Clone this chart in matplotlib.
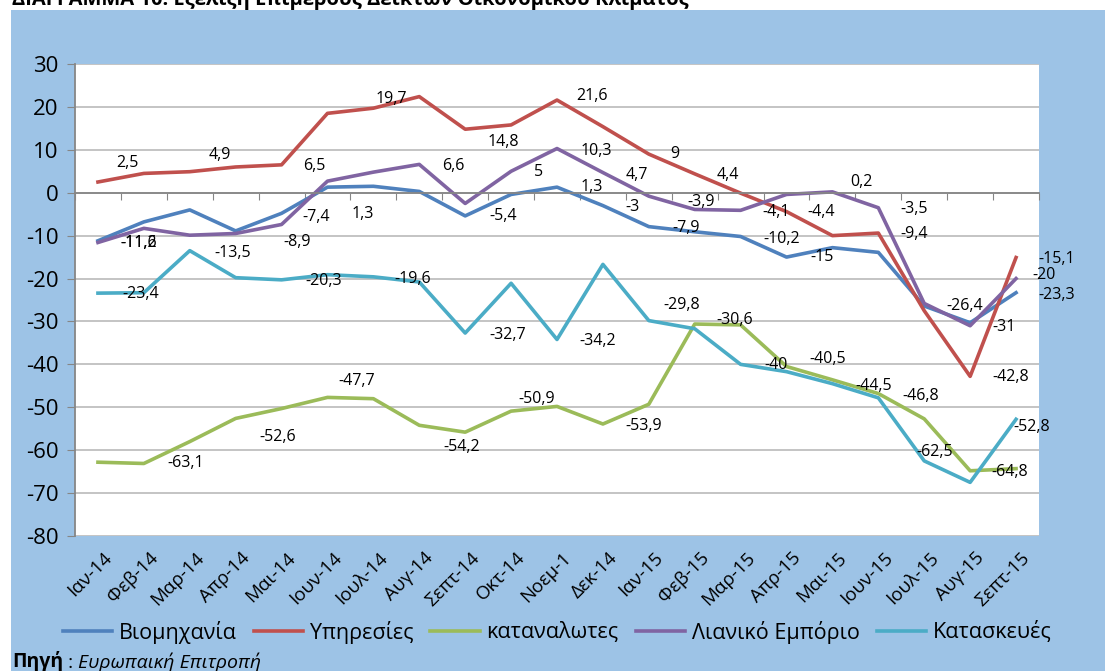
import matplotlib.pyplot as plt
import numpy as np
from matplotlib.patches import Rectangle
from matplotlib.transforms import ScaledTranslation

months = ['Ιαν-14', 'Φεβ-14', 'Μαρ-14', 'Απρ-14', 'Μαι-14', 'Ιουν-14', 'Ιουλ-14',
          'Αυγ-14', 'Σεπτ-14', 'Οκτ-14', 'Νοεμ-1', 'Δεκ-14', 'Ιαν-15', 'Φεβ-15',
          'Μαρ-15', 'Απρ-15', 'Μαι-15', 'Ιουν-15', 'Ιουλ-15', 'Αυγ-15', 'Σεπτ-15']

industry = [-11.2, -6.8, -4.0, -8.9, -4.8, 1.3, 1.5, 0.3, -5.4, -0.4, 1.3,
            -3.0, -7.9, -9.1, -10.2, -15.0, -12.8, -13.9, -26.4, -30.3, -23.3]
services = [2.5, 4.5, 4.9, 6.0, 6.5, 18.5, 19.7, 22.4, 14.8, 15.8, 21.6,
            15.4, 9.0, 4.4, -0.1, -4.4, -10.0, -9.4, -27.5, -42.8, -15.1]
consumers = [-62.8, -63.1, -58.0, -52.6, -50.3, -47.7, -48.0, -54.2, -55.8, -50.9, -49.8,
             -53.9, -49.3, -30.6, -30.8, -40.5, -43.6, -46.8, -52.7, -64.8, -64.3]
retail = [-11.6, -8.3, -9.9, -9.5, -7.4, 2.7, 4.8, 6.6, -2.5, 5.0, 10.3,
          4.7, -0.8, -3.9, -4.1, -0.4, 0.2, -3.5, -25.8, -31.0, -20.0]
construction = [-23.4, -23.3, -13.5, -19.8, -20.3, -19.1, -19.6, -20.8, -32.7, -21.1, -34.2,
                -16.7, -29.8, -31.7, -40.0, -41.7, -44.5, -47.8, -62.5, -67.5, -52.8]

names = ['Βιομηχανία', 'Υπηρεσίες', 'καταναλωτες', 'Λιανικό Εμπόριο', 'Κατασκευές']
colors = ['#4F81BD', '#C0504D', '#9BBB59', '#8064A2', '#4BACC6']
series = [industry, services, consumers, retail, construction]

# data labels: (series, month index, dx px, dy px down)
point_labels = [
    (0, 0, 41, 2), (0, 3, 61, 11), (0, 5, 35, 27), (0, 8, 38, 0), (0, 10, 35, 0),
    (0, 11, 30, 1), (0, 12, 37, 1), (0, 14, 41, 3), (0, 15, 36, 0), (0, 18, 40, 0),
    (0, 20, 41, 2),
    (1, 0, 29, -19), (1, 2, 30, -17), (1, 4, 33, 1), (1, 6, 18, -9), (1, 8, 38, 13),
    (1, 10, 35, -4), (1, 12, 26, 0), (1, 13, 33, 1), (1, 15, 35, 0), (1, 17, 36, 1),
    (1, 19, 41, 1), (1, 20, 41, 1),
    (2, 1, 42, 0), (2, 3, 42, 19), (2, 5, 29, -16), (2, 7, 42, 22), (2, 9, 26, -12),
    (2, 11, 41, 2), (2, 13, 40, -4), (2, 15, 41, -8), (2, 17, 42, 2), (2, 19, 40, 1),
    (3, 0, 41, 0), (3, 4, 35, -7), (3, 7, 34, 2), (3, 9, 27, 1), (3, 10, 39, 2),
    (3, 11, 34, 2), (3, 13, 6, -7), (3, 14, 36, 2), (3, 16, 29, -10), (3, 17, 36, 1),
    (3, 19, 34, 1), (3, 20, 28, -4),
    (4, 0, 43, 1), (4, 2, 43, 2), (4, 4, 42, 1), (4, 6, 39, 2), (4, 8, 42, 2),
    (4, 10, 41, 2), (4, 12, 33, -16), (4, 14, 35, 1), (4, 16, 41, 2), (4, 18, 10, -9),
    (4, 20, 16, 8),
]

plt.rcParams['font.family'] = ['Open Sans', 'DejaVu Sans']
plt.rcParams['axes.unicode_minus'] = False

W, H = 1105, 671
fig = plt.figure(figsize=(W / 100, H / 100), dpi=100)
fig.patches.append(Rectangle((11 / W, 0), 1, 1 - 10 / H, transform=fig.transFigure,
                             facecolor='#9DC3E6', edgecolor='none', zorder=-1))

ax = fig.add_axes([75 / W, 1 - 536 / H, (1039 - 75) / W, (536 - 64) / H])
x = np.arange(len(months))
for vals, name, c in zip(series, names, colors):
    ax.plot(x, vals, color=c, lw=2.6, label=name)

for s, i, dx, dy in point_labels:
    v = series[s][i]
    ax.annotate(f'{v:g}'.replace('.', ','), (i, v), xytext=(dx, -dy),
                textcoords='offset pixels', ha='center', va='center', fontsize=11.5)

ax.set_xlim(-0.5, len(months) - 0.5)
ax.set_ylim(-80, 30)
ax.set_yticks(np.arange(-80, 31, 10))
ax.grid(axis='y', color='#BFBFBF', lw=1.3)
ax.set_axisbelow(True)
for side in ['top', 'right']:
    ax.spines[side].set_visible(False)
ax.spines['left'].set_color('#868686')
ax.spines['left'].set_linewidth(1.3)
ax.spines['bottom'].set_position(('data', 0))
ax.spines['bottom'].set_color('#868686')
ax.spines['bottom'].set_linewidth(1.3)
ax.set_xticks(np.arange(-0.5, len(months)))
ax.tick_params(axis='x', direction='out', length=5, color='#868686', labelbottom=False)
ax.tick_params(axis='y', direction='out', length=6, color='#868686', labelsize=16, pad=6)

sec = ax.secondary_xaxis('bottom')
sec.set_xticks(x)
sec.set_xticklabels(months, rotation=45, ha='right', rotation_mode='anchor', fontsize=13.5)
sec.tick_params(length=0, pad=9)
sec.spines['bottom'].set_visible(False)
shift = ScaledTranslation(5 / 100, 0, fig.dpi_scale_trans)
for lab in sec.get_xticklabels():
    lab.set_transform(lab.get_transform() + shift)

fig.legend(loc='center', bbox_to_anchor=(557 / W, 1 - 632 / H), ncol=5, frameon=False,
           fontsize=15.5, handlelength=2.3, handletextpad=0.3, columnspacing=0.8)

fig.text(12 / W, 1 - 5 / H, 'ΔΙΑΓΡΑΜΜΑ 10: Εξέλιξη Επιμέρους Δεικτών Οικονομικού Κλίματος',
         fontsize=14.5, fontweight='bold', va='baseline')

t1 = fig.text(12 / W, 1 - 667 / H, 'Πηγή', fontsize=14, fontweight='bold', va='baseline')
ann = ax.annotate(' : ', xy=(1, 0), xycoords=t1, fontsize=14, va='bottom', ha='left',
                  annotation_clip=False)
ax.annotate('Ευρωπαική Επιτροπή', xy=(1, 0), xycoords=ann, fontsize=14, style='italic',
            va='bottom', ha='left', annotation_clip=False)

fig.savefig('out.png', dpi=100)
